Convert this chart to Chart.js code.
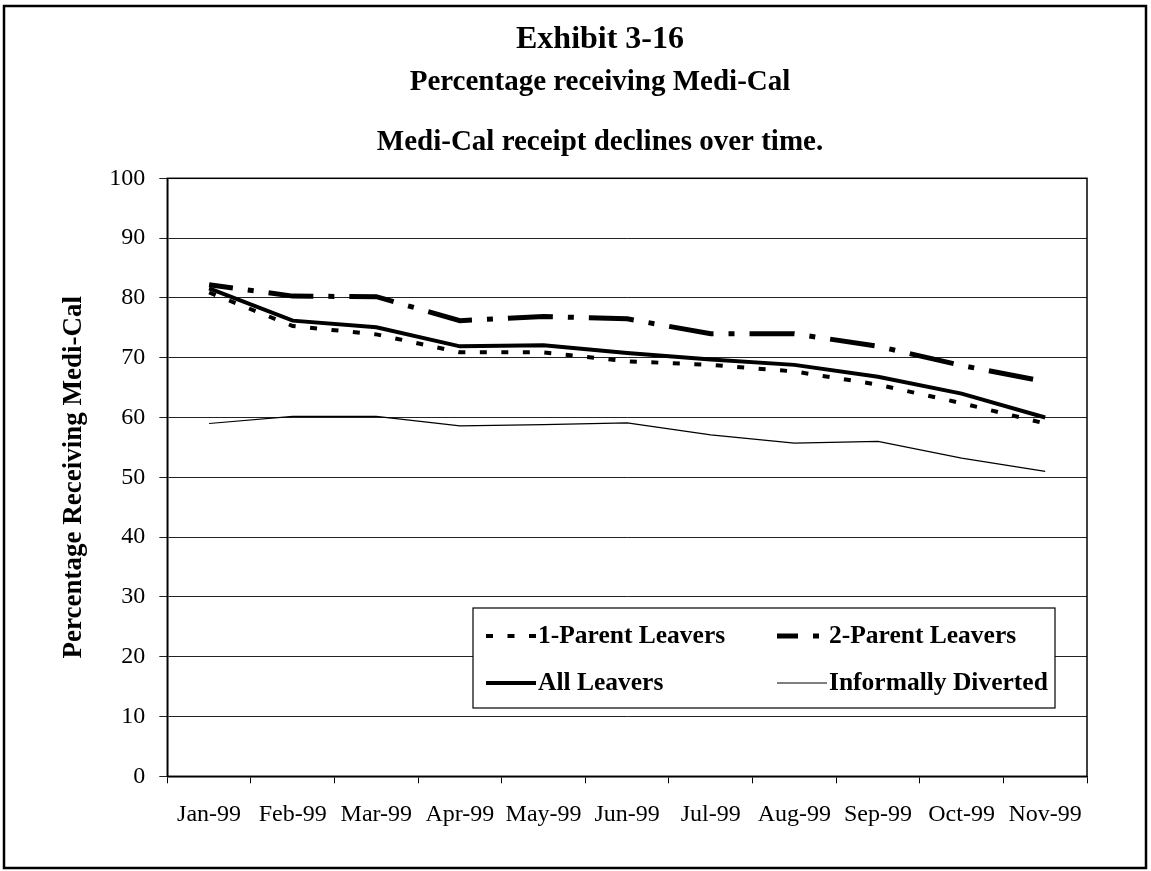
<!DOCTYPE html>
<html>
<head>
<meta charset="utf-8">
<script src="https://cdn.jsdelivr.net/npm/chart.js@4.4.1/dist/chart.umd.min.js"></script>
<style>
html,body{margin:0;padding:0;background:#fff;}
canvas{display:block;}
</style>
</head>
<body>
<canvas id="c" width="1151" height="871"></canvas>
<script>
// ---- data ----
const months = ['Jan-99','Feb-99','Mar-99','Apr-99','May-99','Jun-99','Jul-99','Aug-99','Sep-99','Oct-99','Nov-99'];
const oneParentLeavers = [80.9, 75.3, 73.9, 70.9, 70.9, 69.4, 68.8, 67.7, 65.5, 62.4, 59.0];
const twoParentLeavers = [82.2, 80.3, 80.2, 76.2, 76.9, 76.5, 74.0, 74.0, 71.9, 68.7, 66.0];
const allLeavers = [81.6, 76.2, 75.1, 71.9, 72.1, 70.8, 69.7, 68.8, 66.8, 64.0, 60.0];
const informallyDiverted = [59.0, 60.2, 60.2, 58.6, 58.8, 59.1, 57.1, 55.7, 56.0, 53.2, 51.0];
const seriesNames = ['1-Parent Leavers', '2-Parent Leavers', 'All Leavers', 'Informally Diverted'];
const yMin = 0, yMax = 100, yStep = 10;
const titleText = 'Exhibit 3-16';
const subtitleLines = ['Percentage receiving Medi-Cal', '', 'Medi-Cal receipt declines over time.'];
const yAxisTitle = 'Percentage Receiving Medi-Cal';

const SERIF = "'Liberation Serif', 'Times New Roman', serif";

// outer frame
const framePlugin = {
  id: 'frame',
  beforeDraw(chart) {
    const ctx = chart.ctx;
    ctx.save();
    ctx.fillStyle = '#fff';
    ctx.fillRect(0, 0, chart.width, chart.height);
    ctx.strokeStyle = '#000';
    ctx.lineWidth = 2.5;
    ctx.strokeRect(4, 6, 1142, 862);
    ctx.restore();
  }
};

// shift title blocks so they are centred like the original
const titleShift = {
  id: 'titleShift',
  afterLayout(chart) {
    chart.boxes.forEach(b => {
      if (typeof b._drawArgs === 'function') {
        b.left = 113; b.right = 1087; b.width = 1087 - 113;
      }
    });
  }
};

// plot area border (top / right)
const plotBorder = {
  id: 'plotBorder',
  beforeDatasetsDraw(chart) {
    const a = chart.chartArea, ctx = chart.ctx;
    ctx.save();
    ctx.strokeStyle = '#000';
    ctx.lineWidth = 1.5;
    ctx.strokeRect(a.left, a.top, a.right - a.left, a.bottom - a.top);
    ctx.restore();
  }
};

// legend inside plot, drawn from the datasets
const boxLegend = {
  id: 'boxLegend',
  afterDatasetsDraw(chart) {
    const ctx = chart.ctx;
    const bx = 473, by = 608, bw = 582, bh = 100;
    ctx.save();
    ctx.fillStyle = '#fff';
    ctx.fillRect(bx, by, bw, bh);
    ctx.strokeStyle = '#000';
    ctx.lineWidth = 1.2;
    ctx.strokeRect(bx, by, bw, bh);
    const slots = [
      {x: 486, y: 636}, {x: 777, y: 636},
      {x: 486, y: 683}, {x: 777, y: 683}
    ];
    const legendOffsets = [0, 24, 0, 0];
    chart.data.datasets.forEach((ds, i) => {
      const s = slots[i];
      ctx.save();
      ctx.strokeStyle = ds.borderColor;
      ctx.lineWidth = ds.borderWidth;
      ctx.setLineDash(ds.borderDash || []);
      ctx.lineDashOffset = legendOffsets[i];
      ctx.beginPath();
      ctx.moveTo(s.x, s.y);
      ctx.lineTo(s.x + 50, s.y);
      ctx.stroke();
      ctx.restore();
      ctx.fillStyle = '#000';
      ctx.font = 'bold 25.5px ' + SERIF;
      ctx.textBaseline = 'middle';
      ctx.textAlign = 'left';
      ctx.fillText(ds.label, s.x + 52, s.y);
    });
    ctx.restore();
  }
};

new Chart(document.getElementById('c'), {
  type: 'line',
  data: {
    labels: months,
    datasets: [
      { label: seriesNames[0], data: oneParentLeavers, borderColor: '#000', borderWidth: 4, borderDash: [7, 14.5], borderCapStyle: 'butt', pointRadius: 0, tension: 0, fill: false },
      { label: seriesNames[1], data: twoParentLeavers, borderColor: '#000', borderWidth: 5, borderDash: [45, 15, 6, 15], borderDashOffset: 21, borderCapStyle: 'butt', pointRadius: 0, tension: 0, fill: false },
      { label: seriesNames[2], data: allLeavers, borderColor: '#000', borderWidth: 4, pointRadius: 0, tension: 0, fill: false },
      { label: seriesNames[3], data: informallyDiverted, borderColor: '#000', borderWidth: 1.2, pointRadius: 0, tension: 0, fill: false }
    ]
  },
  options: {
    responsive: false,
    animation: false,
    devicePixelRatio: 1,
    layout: { padding: { top: 0, left: 0, right: 64, bottom: 0 } },
    plugins: {
      legend: { display: false },
      tooltip: { enabled: false },
      title: {
        display: true, text: titleText, color: '#000',
        font: { family: SERIF, size: 32, weight: 'bold', lineHeight: 1.2 },
        padding: { top: 21, bottom: 0 }
      },
      subtitle: {
        display: true, text: subtitleLines, color: '#000',
        font: { family: SERIF, size: 29, weight: 'bold', lineHeight: 30 / 29 },
        padding: { top: 8.6, bottom: 20.3 }
      }
    },
    scales: {
      x: {
        type: 'category',
        offset: true,
        grid: { offset: true, drawOnChartArea: false, drawTicks: true, tickLength: 7, color: '#000', lineWidth: 1 },
        border: { color: '#000', width: 1.5 },
        ticks: { color: '#000', font: { family: SERIF, size: 24 }, padding: 17, autoSkip: false, maxRotation: 0 },
        afterFit(s) { s.height = 871 - 776.3; }
      },
      y: {
        min: yMin, max: yMax,
        ticks: { stepSize: yStep, color: '#000', font: { family: SERIF, size: 24 }, padding: 14 },
        grid: { color: '#222', lineWidth: 1, tickLength: 8 },
        border: { color: '#000', width: 1.5 },
        title: { display: true, text: yAxisTitle, color: '#000', font: { family: SERIF, size: 27, weight: 'bold', lineHeight: 1.2 }, padding: { top: 58 } },
        afterFit(s) { s.width = 167.3; }
      }
    }
  },
  plugins: [framePlugin, titleShift, plotBorder, boxLegend]
});
</script>
</body>
</html>
